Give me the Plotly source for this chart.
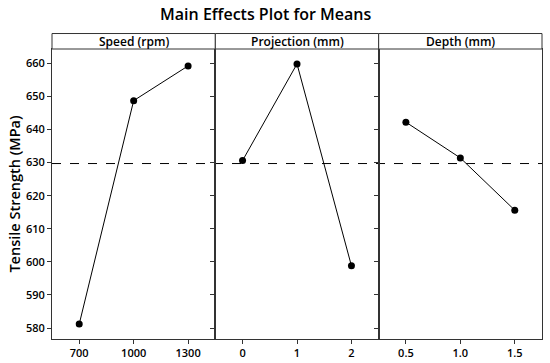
import plotly.graph_objects as go
from plotly.subplots import make_subplots

factors = ["Speed (rpm)", "Projection (mm)", "Depth (mm)"]
speed_levels = ["700", "1000", "1300"]
speed_means = [581.2, 648.7, 659.2]
proj_levels = ["0", "1", "2"]
proj_means = [630.6, 659.8, 598.8]
depth_levels = ["0.5", "1.0", "1.5"]
depth_means = [642.2, 631.4, 615.6]
grand_mean = 629.7
y_ticks = [580, 590, 600, 610, 620, 630, 640, 650, 660]

FONT = "Open Sans"
fig = make_subplots(rows=1, cols=3, shared_yaxes=True, horizontal_spacing=0)

series = [(speed_levels, speed_means), (proj_levels, proj_means), (depth_levels, depth_means)]
for i, (lv, mv) in enumerate(series):
    fig.add_trace(go.Scatter(x=lv, y=mv, mode="lines+markers",
                             line=dict(color="black", width=1),
                             marker=dict(color="black", size=7),
                             showlegend=False, hoverinfo="skip"), row=1, col=i + 1)
    fig.update_xaxes(type="category", range=[-0.5, 2.5], showline=True, mirror=True,
                     linecolor="#333", linewidth=1, ticks="outside", ticklen=4,
                     tickcolor="#333", showgrid=False, zeroline=False, automargin=False,
                     tickfont=dict(family=FONT, size=11, color="black", weight=600),
                     row=1, col=i + 1)

fig.update_yaxes(range=[576.7, 664.3], tickvals=y_ticks, showline=True, mirror=True,
                 linecolor="#333", linewidth=1, ticks="outside", ticklen=4,
                 tickcolor="#333", showgrid=False, zeroline=False, automargin=False,
                 tickfont=dict(family=FONT, size=11, color="black", weight=600))
fig.update_yaxes(title=dict(text="Tensile Strength (MPa)", standoff=1,
                            font=dict(family=FONT, size=14.5, color="black", weight=600)),
                 row=1, col=1)

# grand mean dashed line
fig.add_shape(type="line", xref="paper", yref="y", x0=0, x1=1, y0=grand_mean, y1=grand_mean,
              line=dict(color="black", width=1, dash="dash"), layer="below")

# header strips
plot_h = 363 - 49 - 23.7
strip_top = 1 + (49 - 33.5) / plot_h
for i, name in enumerate(factors):
    dom = fig.layout[f"xaxis{'' if i == 0 else i + 1}"].domain
    fig.add_shape(type="rect", xref="paper", yref="paper", x0=dom[0], x1=dom[1],
                  y0=1, y1=strip_top, line=dict(color="#333", width=1), fillcolor="white")
    fig.add_annotation(text=name, xref="paper", yref="paper", x=(dom[0] + dom[1]) / 2,
                       y=(1 + strip_top) / 2, showarrow=False, xanchor="center", yanchor="middle",
                       font=dict(family=FONT, size=12, color="black", weight=600))

fig.update_layout(
    width=550, height=363,
    margin=dict(l=52, r=8, t=49, b=23.7),
    paper_bgcolor="white", plot_bgcolor="white",
    title=dict(text="Main Effects Plot for Means", x=0.483, xanchor="center",
               y=1 - 14 / 363, yanchor="middle",
               font=dict(family=FONT, size=16, color="black", weight=600)),
)

fig.write_html("out.html", config={"displayModeBar": False},
               post_script="document.body.style.margin='0';")
